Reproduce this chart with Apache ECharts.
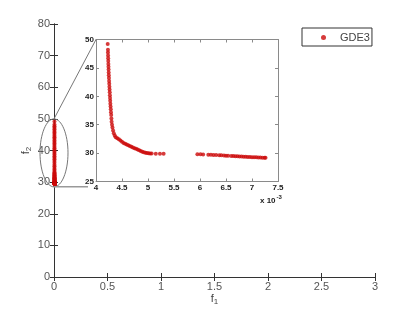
<!DOCTYPE html>
<html><head><meta charset="utf-8">
<script src="https://cdn.jsdelivr.net/npm/echarts@6/dist/echarts.min.js"></script>
<style>html,body{margin:0;padding:0;background:#fff}#c{width:415px;height:311px}</style>
</head><body><div id="c"></div>
<script>
const seriesName = 'GDE3';
// f1 values in units of 10^-3
const f1e3 = [4.225,
  4.230,4.230,4.232,4.234,4.236,4.238,4.240,4.242,4.244,4.246,4.249,4.252,4.255,4.258,4.261,4.264,4.267,4.270,4.273,4.276,4.280,4.284,4.288,4.292,4.296,
  4.300,4.308,4.317,4.328,4.342,4.360,4.380,4.410,4.440,4.470,4.500,4.530,4.560,4.590,4.620,4.650,4.680,4.710,4.740,4.770,4.800,4.830,4.860,4.890,4.920,4.950,4.980,5.010,5.040,5.070,
  5.150,5.230,5.300,
  5.950,6.010,6.060,6.160,6.210,6.260,6.310,6.370,6.410,6.460,6.500,6.540,6.600,6.640,6.680,6.720,6.760,6.800,6.840,6.880,6.920,6.960,7.000,7.040,7.080,7.120,7.160,7.200,7.240,7.260];
const f2 = [49.2,
  48.2,47.7,47.2,46.7,46.2,45.7,45.2,44.7,44.2,43.7,43.2,42.7,42.2,41.7,41.2,40.7,40.2,39.7,39.2,38.7,38.2,37.7,37.2,36.7,36.1,
  35.5,35.0,34.5,34.0,33.5,33.1,32.8,32.6,32.45,32.2,32.0,31.8,31.65,31.5,31.37,31.25,31.12,31.0,30.87,30.75,30.62,30.5,30.37,30.25,30.13,30.05,30.0,29.97,29.95,29.93,
  29.9,29.9,29.88,
  29.8,29.78,29.76,29.72,29.7,29.68,29.65,29.62,29.6,29.57,29.55,29.52,29.5,29.47,29.45,29.43,29.41,29.39,29.37,29.35,29.33,29.31,29.29,29.27,29.25,29.23,29.21,29.19,29.17,29.16];
const mainX = {min: 0, max: 3, interval: 0.5};
const mainY = {min: 0, max: 80, interval: 10};
const insetX = {min: 4, max: 7.5, interval: 0.5};
const insetY = {min: 25, max: 50, interval: 5};

const mainData = f1e3.map((v, i) => [v * 1e-3, f2[i]]);
const insetData = f1e3.map((v, i) => [v, f2[i]]);

const FONT = '"Liberation Sans", Arial, sans-serif';
const RED = '#cc0a0a';
const mainLine = {show: true, lineStyle: {color: '#333', width: 1}};
const insetLine = {show: true, lineStyle: {color: '#8a8a8a', width: 1}};

function mkAxis(kind, grid, pos, range, labels, isInset, extra) {
  const ax = Object.assign({
    type: 'value', gridIndex: grid, position: pos,
    min: range.min, max: range.max, interval: range.interval,
    splitLine: {show: false},
    axisLine: isInset ? insetLine : mainLine,
    axisTick: {show: true, inside: true, length: isInset ? 3 : 4,
      lineStyle: {color: isInset ? '#8a8a8a' : '#333'}},
    axisLabel: labels ? (isInset ?
      {show: true, fontFamily: FONT, fontSize: 8, fontWeight: 'bold', color: '#222', margin: 2} :
      {show: true, fontFamily: FONT, fontSize: 11, color: '#555', margin: 4}) : {show: false},
    z: isInset ? 5 : 0
  }, extra || {});
  return ax;
}

const chart = echarts.init(document.getElementById('c'), null, {renderer: 'canvas'});
chart.setOption({
  animation: false,
  backgroundColor: '#fff',
  grid: [
    {left: 54, top: 24, width: 321, height: 253, outerBoundsMode: 'none', containLabel: false},
    {left: 96, top: 39.5, width: 182, height: 142, outerBoundsMode: 'none', containLabel: false,
      show: true, backgroundColor: '#fff', borderWidth: 0, z: 5}
  ],
  legend: {
    data: [seriesName], left: 302, top: 28,
    icon: 'circle', itemWidth: 5, itemHeight: 5,
    padding: [4, 2, 3, 19],
    borderColor: '#333', borderWidth: 1, backgroundColor: '#fff',
    textStyle: {fontFamily: FONT, fontSize: 11, color: '#444', padding: [0, 0, 0, 9], lineHeight: 11}
  },
  xAxis: [
    mkAxis('x', 0, 'bottom', mainX, true, false, {
      name: 'f{s|1}', nameLocation: 'middle', nameGap: 15, nameMoveOverlap: false,
      nameTextStyle: {fontFamily: FONT, fontSize: 11, color: '#444', rich: {s: {fontSize: 8, fontFamily: FONT, color: '#444', verticalAlign: 'bottom', padding: [6, 0, 0, 0]}}}
    }),
    mkAxis('x', 0, 'top', mainX, false, false),
    mkAxis('x', 1, 'bottom', insetX, true, true),
    mkAxis('x', 1, 'top', insetX, false, true)
  ],
  yAxis: [
    mkAxis('y', 0, 'left', mainY, true, false, {
      name: 'f{s|2}', nameLocation: 'middle', nameGap: 21, nameRotate: 90, nameMoveOverlap: false,
      nameTextStyle: {fontFamily: FONT, fontSize: 11, color: '#444', rich: {s: {fontSize: 8, fontFamily: FONT, color: '#444', padding: [6, 0, 0, 0]}}}
    }),
    mkAxis('y', 0, 'right', mainY, false, false),
    mkAxis('y', 1, 'left', insetY, true, true),
    mkAxis('y', 1, 'right', insetY, false, true)
  ],
  series: [
    {name: seriesName, type: 'scatter', xAxisIndex: 0, yAxisIndex: 0, data: mainData,
      symbol: 'circle', symbolSize: 4, itemStyle: {color: RED}, z: 3},
    {name: seriesName, type: 'scatter', xAxisIndex: 2, yAxisIndex: 2, data: insetData,
      symbol: 'circle', symbolSize: 4, itemStyle: {color: RED}, z: 8}
  ]
});

const pTop = chart.convertToPixel({seriesIndex: 0}, [0, 50]);
const pBot = chart.convertToPixel({seriesIndex: 0}, [0, 28.5]);
const corner = chart.convertToPixel({seriesIndex: 1}, [4, 50]);
const brCorner = chart.convertToPixel({seriesIndex: 1}, [7.5, 25]);
const gray = '#777';
chart.setOption({
  graphic: [
    {type: 'ellipse', shape: {cx: pTop[0], cy: (pTop[1] + pBot[1]) / 2, rx: 14, ry: (pBot[1] - pTop[1]) / 2},
      style: {fill: 'none', stroke: gray, lineWidth: 1}, z: 20},
    {type: 'line', shape: {x1: pTop[0], y1: pTop[1], x2: corner[0], y2: corner[1]},
      style: {stroke: gray, lineWidth: 1}, z: 20},
    {type: 'line', shape: {x1: pBot[0], y1: pBot[1], x2: pBot[0] + 34, y2: pBot[1]},
      style: {stroke: '#999', lineWidth: 1.5}, z: 20},
    {type: 'text', x: brCorner[0] - 18, y: brCorner[1] + 13, z: 20,
      style: {text: '{a|x 10}{b|-3}', fill: '#222',
        rich: {a: {fontFamily: FONT, fontSize: 8, fontWeight: 'bold', fill: '#222'},
               b: {fontFamily: FONT, fontSize: 6, fontWeight: 'bold', fill: '#222', verticalAlign: 'top', padding: [0, 0, 6, 1]}}}}
  ]
});
</script>
</body></html>
